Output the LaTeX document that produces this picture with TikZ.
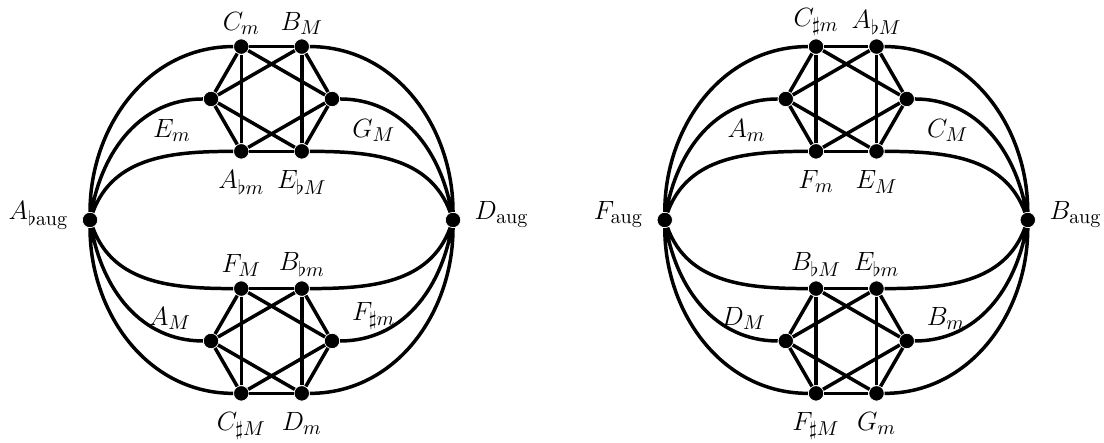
\documentclass[tikz,border=0pt]{standalone}
\usepackage{amsmath,amssymb}

\begin{document}
\begin{tikzpicture}[x=1.16cm,y=1.16cm,line width=1.9pt,
  v/.style={circle,fill=black,draw=white,line width=0.4pt,inner sep=0pt,minimum size=8.4pt},
  every label/.style={font=\fontsize{15}{18}\selectfont,inner sep=1pt},
  lup/.style={label distance=0pt},
  ldn/.style={label distance=4pt},
  lside/.style={label distance=8.5pt},
  lsideb/.style={label distance=5.5pt},
  laugl/.style={label distance=5.5pt,anchor=base east},
  laugr/.style={label distance=5.5pt,anchor=base west}]
\useasboundingbox (-4.488,-3.686) rectangle (13.76,3.636);
% left: A-flat aug and D aug with their two hexagons
\begin{scope}
\node[v,label={[laugl]left:$A_{\flat\mathrm{aug}}$}] (L) at (-3,0) {};
\node[v,label={[laugr]right:$D_{\mathrm{aug}}$}] (R) at (3,0) {};
\begin{scope}[shift={(0,2)}]
\node[v,label={[lup]above:$C_m$}] (t1) at (120:1) {}; \node[v,label={[lup]above:$B_M$}] (t2) at (60:1) {};
\node[v,label={[lside]below right:$G_M$}] (t3) at (0:1) {}; \node[v,label={[ldn]below:$E_{\flat M}$}] (t4) at (300:1) {};
\node[v,label={[ldn]below:$A_{\flat m}$}] (t5) at (240:1) {}; \node[v,label={[lside]below left:$E_m$}] (t6) at (180:1) {};
\end{scope}
\begin{scope}[shift={(0,-2)}]
\node[v,label={[lup]above:$F_M$}] (b1) at (120:1) {}; \node[v,label={[lup]above:$B_{\flat m}$}] (b2) at (60:1) {};
\node[v,label={[lsideb]25:$F_{\sharp m}$}] (b3) at (0:1) {}; \node[v,label={[ldn]below:$D_m$}] (b4) at (300:1) {};
\node[v,label={[ldn]below:$C_{\sharp M}$}] (b5) at (240:1) {}; \node[v,label={[lsideb]155:$A_M$}] (b6) at (180:1) {};
\end{scope}
\foreach \a/\b in {1/2,2/3,3/4,4/5,5/6,6/1,1/3,2/4,3/5,4/6,5/1,6/2} {\draw (t\a)--(t\b); \draw (b\a)--(b\b);}
\draw (L) to[out=90,in=180] (t1) (L) to[out=80,in=180] (t6) (L) to[out=70,in=180] (t5);
\draw (L) to[out=-90,in=180] (b5) (L) to[out=-80,in=180] (b6) (L) to[out=-70,in=180] (b1);
\draw (R) to[out=90,in=0] (t2) (R) to[out=100,in=0] (t3) (R) to[out=110,in=0] (t4);
\draw (R) to[out=-90,in=0] (b4) (R) to[out=-100,in=0] (b3) (R) to[out=-110,in=0] (b2);
\end{scope}
% right: F aug and B aug
\begin{scope}[xshift=9.5*1.16cm]
\node[v,label={[laugl]left:$F_{\mathrm{aug}}$}] (L) at (-3,0) {};
\node[v,label={[laugr]right:$B_{\mathrm{aug}}$}] (R) at (3,0) {};
\begin{scope}[shift={(0,2)}]
\node[v,label={[lup]above:$C_{\sharp m}$}] (t1) at (120:1) {}; \node[v,label={[lup]above:$A_{\flat M}$}] (t2) at (60:1) {};
\node[v,label={[lside]below right:$C_M$}] (t3) at (0:1) {}; \node[v,label={[ldn]below:$E_M$}] (t4) at (300:1) {};
\node[v,label={[ldn]below:$F_m$}] (t5) at (240:1) {}; \node[v,label={[lside]below left:$A_m$}] (t6) at (180:1) {};
\end{scope}
\begin{scope}[shift={(0,-2)}]
\node[v,label={[lup]above:$B_{\flat M}$}] (b1) at (120:1) {}; \node[v,label={[lup]above:$E_{\flat m}$}] (b2) at (60:1) {};
\node[v,label={[lsideb]25:$B_m$}] (b3) at (0:1) {}; \node[v,label={[ldn]below:$G_m$}] (b4) at (300:1) {};
\node[v,label={[ldn]below:$F_{\sharp M}$}] (b5) at (240:1) {}; \node[v,label={[lsideb]155:$D_M$}] (b6) at (180:1) {};
\end{scope}
\foreach \a/\b in {1/2,2/3,3/4,4/5,5/6,6/1,1/3,2/4,3/5,4/6,5/1,6/2} {\draw (t\a)--(t\b); \draw (b\a)--(b\b);}
\draw (L) to[out=90,in=180] (t1) (L) to[out=80,in=180] (t6) (L) to[out=70,in=180] (t5);
\draw (L) to[out=-90,in=180] (b5) (L) to[out=-80,in=180] (b6) (L) to[out=-70,in=180] (b1);
\draw (R) to[out=90,in=0] (t2) (R) to[out=100,in=0] (t3) (R) to[out=110,in=0] (t4);
\draw (R) to[out=-90,in=0] (b4) (R) to[out=-100,in=0] (b3) (R) to[out=-110,in=0] (b2);
\end{scope}
\end{tikzpicture}
\end{document}
